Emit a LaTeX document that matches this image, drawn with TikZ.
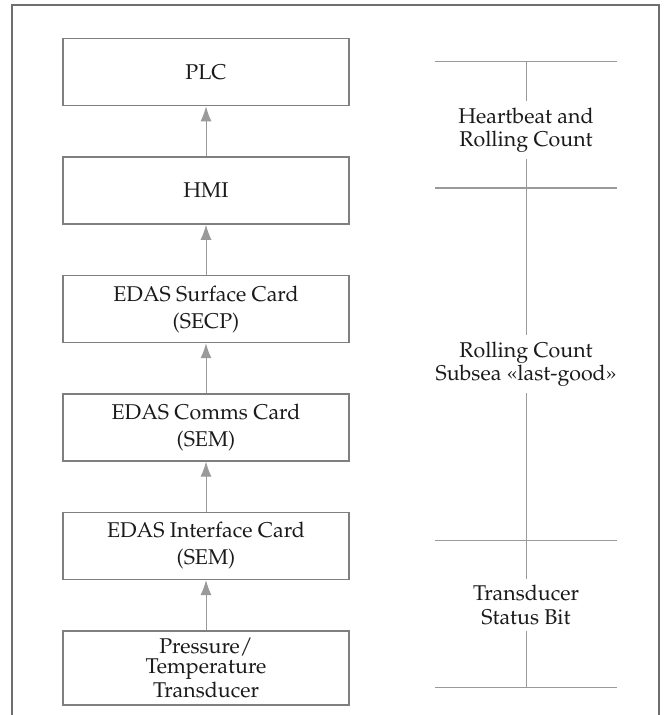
\documentclass[tikz,border=0pt]{standalone}
\IfFileExists{mathpazo.sty}{%
  \usepackage[T1]{fontenc}\usepackage{mathpazo}}{%
  \usepackage{fontspec}\setmainfont[Scale=1.05]{Liberation Serif}}
\usetikzlibrary{arrows.meta, positioning}
\definecolor{framegray}{HTML}{6E6E6E}
\definecolor{boxgray}{HTML}{7F7F7F}
\definecolor{linkgray}{HTML}{9A9A9A}
\definecolor{inkgray}{HTML}{1A1A1A}

\begin{document}
\begin{tikzpicture}[
    x=0.468pt, y=-0.468pt,
    node distance=23.4pt,
    >={Latex[length=7pt,width=5.15pt]},
    card/.style={draw=boxgray, line width=0.66pt, minimum width=133.85pt, minimum height=31.36pt, align=center, inner sep=2pt, text=inkgray, font=\fontsize{10pt}{12.64pt}\selectfont},
    flow/.style={->, draw=linkgray, line width=0.47pt},
    scaleline/.style={draw=linkgray, line width=0.47pt},
    tag/.style={fill=white, align=center, text=inkgray, inner sep=3pt, font=\fontsize{10pt}{10.86pt}\selectfont}
  ]
    \path[use as bounding box, clip] (0,0) rectangle (665,715);
    \draw[framegray, line width=1.08pt] (12,5) rectangle (659,740);

    % signal chain, top to bottom
    \node[card, anchor=north] (plc) at (206,38) {PLC};
    \node[card, below=of plc] (hmi) {HMI};
    \node[card, below=of hmi] (secp) {EDAS Surface Card\\(SECP)};
    \node[card, below=of secp] (comms) {EDAS Comms Card\\(SEM)};
    \node[card, below=of comms] (iface) {EDAS Interface Card\\(SEM)};
    \node[card, minimum height=34.63pt, font=\fontsize{10pt}{9.27pt}\selectfont, below=of iface] (sensor) {Pressure/\\Temperature\\Transducer};

    \draw[flow] (sensor) -- (iface);
    \draw[flow] (iface) -- (comms);
    \draw[flow] (comms) -- (secp);
    \draw[flow] (secp) -- (hmi);
    \draw[flow] (hmi) -- (plc);

    % diagnostic scale on the right
    \coordinate (m1) at (526,62);
    \coordinate (m2) at (526,188);
    \coordinate (m3) at (526,540);
    \coordinate (m4) at (526,687);
    \draw[scaleline] (m1) -- (m4);
    \foreach \m in {m1,m2,m3,m4}
      \draw[scaleline] ([xshift=-42.6pt]\m) -- ([xshift=42.6pt]\m);

    \node[tag] (beat) at (526,130) {Heartbeat and\\Rolling Count};
    \node[tag] (count) at (526,364) {Rolling Count\\Subsea \guillemotleft last-good\guillemotright};
    \node[tag] (status) at (526,605) {Transducer\\Status Bit};
\end{tikzpicture}
\end{document}
